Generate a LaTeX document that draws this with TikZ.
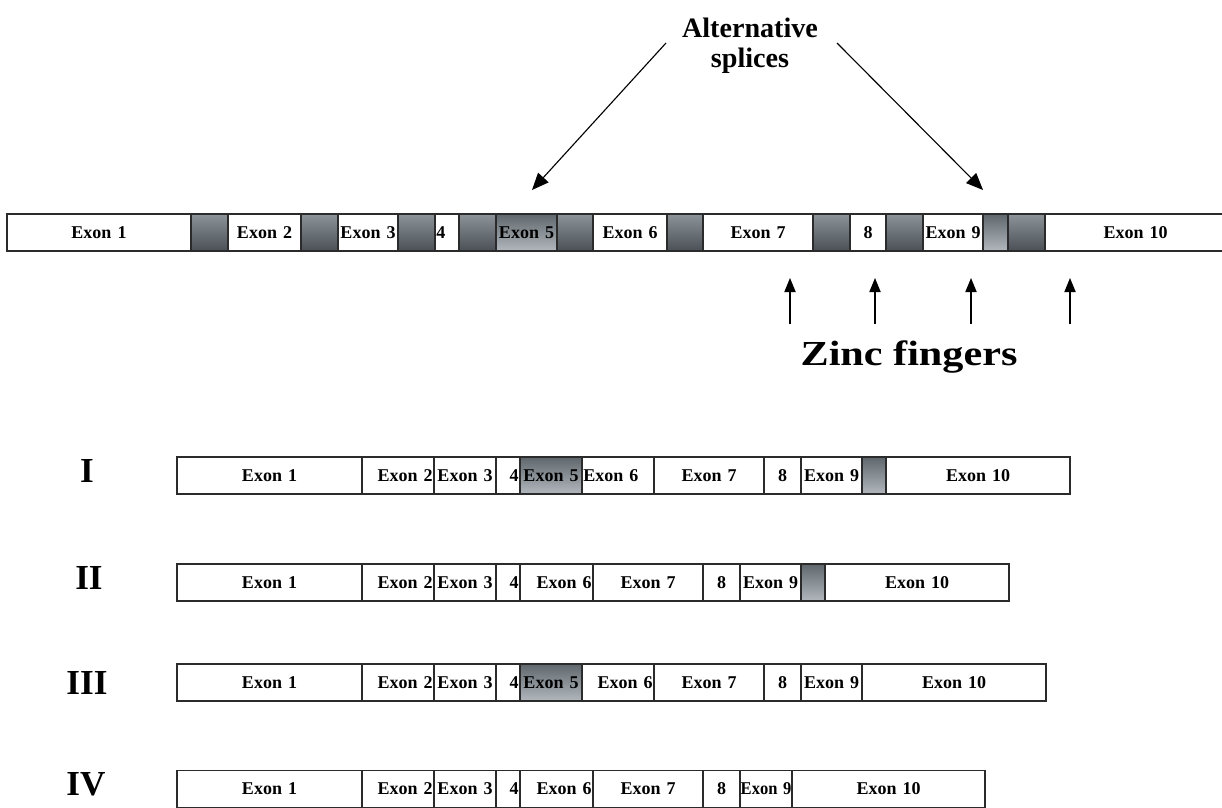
\documentclass[tikz,border=0pt]{standalone}
\usepackage{fontspec}
\usepackage{graphicx}
\setmainfont{Liberation Serif}
\usetikzlibrary{arrows.meta}
\usetikzlibrary{positioning}

\definecolor{introntop}{HTML}{8C9399}
\definecolor{intronbot}{HTML}{4A5055}
\definecolor{alttop}{HTML}{5F676D}
\definecolor{altbot}{HTML}{B2B8BD}
\definecolor{boxline}{HTML}{2B2B2B}

\tikzset{
  box/.style={draw=boxline, line width=0.8pt, inner xsep=1pt, inner ysep=0pt,
    minimum height=37*0.025cm, font=\fontsize{12.8}{14}\selectfont\bfseries},
  exon/.style={box, fill=white},
  intron/.style={box, top color=introntop, bottom color=intronbot},
  alt/.style={box, top color=alttop, bottom color=altbot},
  isoname/.style={font=\fontsize{25}{25}\selectfont\bfseries},
  note/.style={font=\fontsize{20}{21}\selectfont\bfseries, align=center},
  pointer/.style={line width=0.8pt, -{Triangle[length=12pt,width=10pt]}},
  finger/.style={line width=0.8pt, -{Triangle[length=10pt,width=8pt]}}
}

\begin{document}
\begin{tikzpicture}[x=0.025cm, y=-0.025cm]
\useasboundingbox (0,0) rectangle (1222,808);

% gene
\foreach \a/\b/\t/\s/\al [count=\i] in {
  7/191/Exon~1/exon/center, 191/228//intron/center, 228/301/Exon~2/exon/center,
  301/338//intron/center, 338/398/Exon~3/exon/center, 398/435//intron/center,
  435/459/4/exon/left, 459/496//intron/center, 496/557/Exon~5/alt/center,
  557/593//intron/center, 593/667/Exon~6/exon/center, 667/703//intron/center,
  703/813/Exon~7/exon/center, 813/850//intron/center, 850/886/8/exon/center,
  886/923//intron/center, 923/983/Exon~9/exon/center, 983/1008//alt/center,
  1008/1045//intron/center, 1045/1226/Exon~10/exon/center}
  \node[\s, align=\al, minimum width={(\b-\a)*0.025cm}, text width={(\b-\a)*0.025cm-2pt}]
    (g\i) at ({(\a+\b)/2},232.5) {\t};

% isoform I
\foreach \a/\b/\t/\s/\al [count=\i] in {
  177/362/Exon~1/exon/center, 362/434/Exon~2/exon/right, 434/496/Exon~3/exon/center,
  496/520/4/exon/right, 520/582/Exon~5/alt/center, 582/654/Exon~6/exon/left,
  654/764/Exon~7/exon/center, 764/801/8/exon/center, 801/862/Exon~9/exon/center,
  862/886//alt/center, 886/1070/Exon~10/exon/center}
  \node[\s, align=\al, minimum width={(\b-\a)*0.025cm}, text width={(\b-\a)*0.025cm-2pt}]
    (a\i) at ({(\a+\b)/2},475.5) {\t};

% isoform II
\foreach \a/\b/\t/\s/\al [count=\i] in {
  177/362/Exon~1/exon/center, 362/434/Exon~2/exon/right, 434/496/Exon~3/exon/center,
  496/520/4/exon/right, 520/593/Exon~6/exon/right, 593/703/Exon~7/exon/center,
  703/740/8/exon/center, 740/801/Exon~9/exon/center, 801/825//alt/center,
  825/1009/Exon~10/exon/center}
  \node[\s, align=\al, minimum width={(\b-\a)*0.025cm}, text width={(\b-\a)*0.025cm-2pt}]
    (b\i) at ({(\a+\b)/2},582.5) {\t};

% isoform III
\foreach \a/\b/\t/\s/\al [count=\i] in {
  177/362/Exon~1/exon/center, 362/434/Exon~2/exon/right, 434/496/Exon~3/exon/center,
  496/520/4/exon/right, 520/582/Exon~5/alt/center, 582/654/Exon~6/exon/right,
  654/764/Exon~7/exon/center, 764/801/8/exon/center, 801/862/Exon~9/exon/center,
  862/1046/Exon~10/exon/center}
  \node[\s, align=\al, minimum width={(\b-\a)*0.025cm}, text width={(\b-\a)*0.025cm-2pt}]
    (c\i) at ({(\a+\b)/2},682.5) {\t};

% isoform IV
\foreach \a/\b/\t/\s/\al [count=\i] in {
  177/362/Exon~1/exon/center, 362/434/Exon~2/exon/right, 434/496/Exon~3/exon/center,
  496/520/4/exon/right, 520/593/Exon~6/exon/right, 593/703/Exon~7/exon/center,
  703/740/8/exon/center, 740/792/{\makebox[0pt]{\scalebox{0.92}[1]{Exon~9}}}/exon/center,
  792/985/Exon~10/exon/center}
  \node[\s, align=\al, minimum width={(\b-\a)*0.025cm}, text width={(\b-\a)*0.025cm-2pt}]
    (d\i) at ({(\a+\b)/2},789) {\t};

\node[isoname] (iso1) at (87,471) {I};
\node[isoname] (iso2) at (89,578) {II};
\node[isoname] (iso3) at (87,683) {III};
\node[isoname] (iso4) at (86,784) {IV};

\node[note] (splice) at (750,46) {Alternative\\splices};
\node[note, font=\fontsize{25}{25}\selectfont\bfseries, xscale=1.2] (zinc) at (909,357) {Zinc fingers};

\coordinate (sl0) at (666,43);
\coordinate (sl1) at (532,190);
\coordinate (sr0) at (837,43);
\coordinate (sr1) at (983,190);
\draw[pointer] (sl0) -- (sl1);
\draw[pointer] (sr0) -- (sr1);

\foreach \x [count=\i] in {790,875,971,1070} {
  \coordinate (zt\i) at (\x,324);
  \coordinate (zh\i) at (\x,278);
  \draw[finger] (zt\i) -- (zh\i);
}
\end{tikzpicture}
\end{document}
